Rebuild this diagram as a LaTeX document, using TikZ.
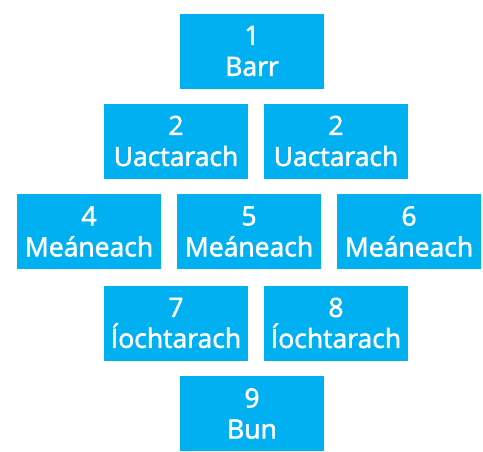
\documentclass[tikz,border=0pt]{standalone}
\usepackage{fontspec}
\setmainfont{Open Sans}[FakeBold=2]
\usepackage{tikz}
\definecolor{tierblue}{HTML}{00B0F0}

\begin{document}
\begin{tikzpicture}[
    x=1pt, y=-1pt,
    tier/.style={rectangle, fill=tierblue, text=white, minimum width=144pt, minimum height=75pt,
        inner sep=0pt, align=center, font=\fontsize{26.5}{31}\selectfont},
]

% ---- Layout ----
\def\yone{51}
\def\ytwo{141}
\def\ythree{231.5}
\def\yfour{323}
\def\yfive{413.5}

% ---- Top ----
\node[tier] (barr) at (252,\yone) {1\\Barr};

% ---- Upper ----
\foreach \x/\n in {176/1,336/2} {
    \node[tier] (uac\n) at (\x,\ytwo) {2\\Uactarach};
}

% ---- Middle ----
\foreach \x/\n in {89/4,249/5,409/6} {
    \node[tier] (mea\n) at (\x,\ythree) {\n\\Meáneach};
}

% ---- Lower ----
\foreach \x/\n in {176/7,336/8} {
    \node[tier] (ioc\n) at (\x,\yfour) {\n\\Íochtarach};
}

% ---- Bottom ----
\node[tier] (bun) at (252,\yfive) {9\\Bun};

\path[use as bounding box] (0,0) rectangle (483,446);

\end{tikzpicture}
\end{document}
